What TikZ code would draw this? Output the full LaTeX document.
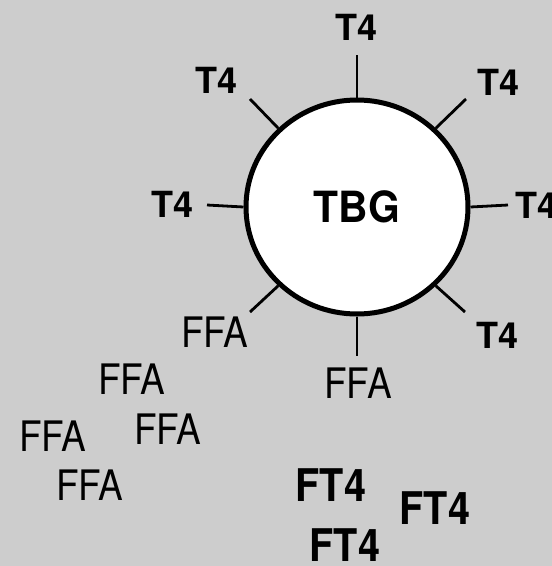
\documentclass[tikz,border=0pt]{standalone}
\usepackage{fontspec}
\setmainfont{TeX Gyre Heros}
\usetikzlibrary{shapes.geometric}
\definecolor{bgcol}{RGB}{205,205,205}
\newcommand\hsqz[2]{\scalebox{#1}[1]{#2}}
\begin{document}
\begin{tikzpicture}[x=1pt,y=-1pt,
  tfour/.style={inner sep=0pt, font=\fontsize{36}{36}\selectfont\bfseries},
  ffa/.style={inner sep=0pt, font=\fontsize{42}{42}\selectfont},
  ftfour/.style={inner sep=0pt, font=\fontsize{45}{45}\selectfont\bfseries},
  spoke/.style={line width=2.8pt},
  protein/.style={ellipse, draw, fill=white, line width=5pt, minimum width=222pt, minimum height=214pt, inner sep=0pt, font=\fontsize{43}{43}\selectfont\bfseries}]
\useasboundingbox (0,0) rectangle (552,566);
\fill[bgcol] (0,0) rectangle (552,566);
\begin{scope}
\clip (0,0) rectangle (552,566);
% spoke ends
\coordinate (s90) at (357,55);
\coordinate (s45) at (466,99);
\coordinate (s0) at (508,205);
\coordinate (s315) at (465,312);
\coordinate (s270) at (357,356);
\coordinate (s225) at (250,312);
\coordinate (s180) at (207,205);
\coordinate (s135) at (250,99);
\node[protein] (tbg) at (357,207) {\hsqz{0.95}{TBG}};
\foreach \a in {0,45,90,135,180,225,270,315}
  \draw[spoke] (tbg.\a) -- (s\a);
% T4 labels
\node[tfour] (t4top) at (357,27) {T4};
\node[tfour] (t4ur) at (499,82) {T4};
\node[tfour] (t4ul) at (217,80) {T4};
\node[tfour] (t4l) at (173,204) {T4};
\node[tfour] (t4r) at (537,205) {T4};
\node[tfour] (t4lr) at (498,335) {T4};
% FFA labels
\node[ffa] (ffa1) at (215,332) {\hsqz{0.88}{FFA}};
\node[ffa] (ffa0) at (358,383) {\hsqz{0.88}{FFA}};
\node[ffa] (ffa2) at (132,379) {\hsqz{0.88}{FFA}};
\node[ffa] (ffa3) at (168,429) {\hsqz{0.88}{FFA}};
\node[ffa] (ffa4) at (53,436) {\hsqz{0.88}{FFA}};
\node[ffa] (ffa5) at (90,485) {\hsqz{0.88}{FFA}};
% FT4 labels
\node[ftfour] (ft4a) at (331,485) {\hsqz{0.88}{FT4}};
\node[ftfour] (ft4b) at (435,508) {\hsqz{0.88}{FT4}};
\node[ftfour] (ft4c) at (345,545) {\hsqz{0.88}{FT4}};
\end{scope}
\end{tikzpicture}
\end{document}
